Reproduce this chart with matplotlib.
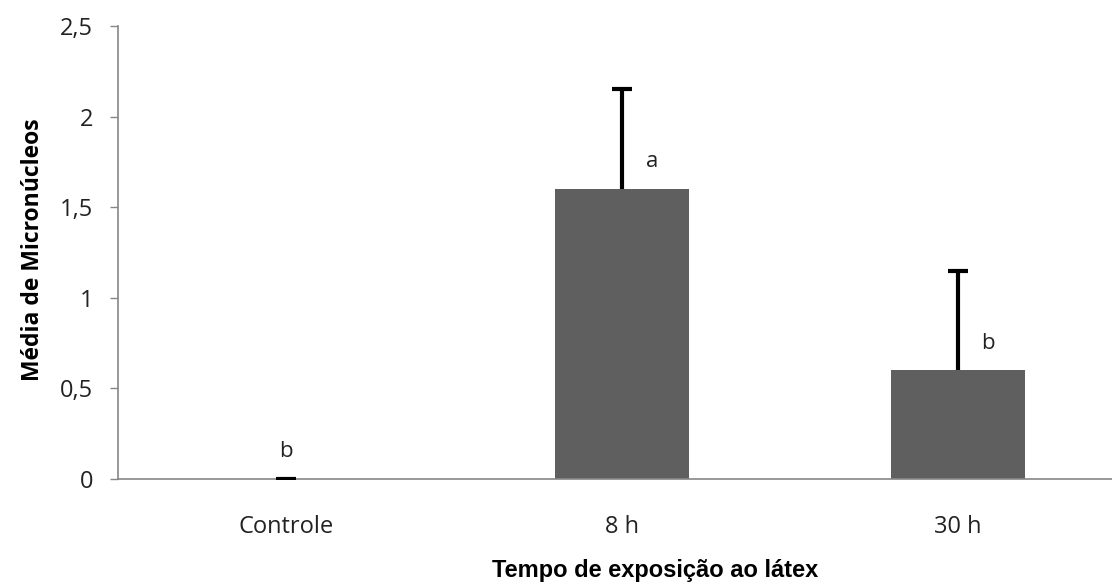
import matplotlib.pyplot as plt
import numpy as np

# dados
grupos = ['Controle', '8 h', '30 h']
medias = [0.0, 1.6, 0.6]
erros = [0.0, 0.55, 0.55]
letras = ['b', 'a', 'b']

fig = plt.figure(figsize=(11.12, 5.84), dpi=100)
ax = fig.add_axes([118 / 1112, 105 / 584, 1008 / 1112, 453 / 584])

x = np.arange(len(grupos))
ax.bar(x, medias, width=0.4, color='#5f5f5f', zorder=2)
eb = ax.errorbar(x, medias, yerr=[np.zeros(len(x)), erros], fmt='none',
                 ecolor='black', elinewidth=3, capsize=7, capthick=3, zorder=3)
eb[1][0].set_visible(False)  # so a barra superior

# letras de significancia
pos_letra = [(0, 0.15), (1.09, 1.75), (2.09, 0.75)]
for (px, py), l in zip(pos_letra, letras):
    ax.text(px, py, l, ha='center', va='center', fontsize=16,
            family='Open Sans', color='#222222')

ax.set_xlim(-0.5, 2.5)
ax.set_ylim(0, 2.5)
ax.set_yticks([0, 0.5, 1, 1.5, 2, 2.5])
ax.set_yticklabels(['0', '0,5', '1', '1,5', '2', '2,5'])
ax.set_xticks(x)
ax.set_xticklabels(grupos)

for lab in ax.get_xticklabels() + ax.get_yticklabels():
    lab.set_family('Open Sans')
    lab.set_fontsize(17)
    lab.set_color('#222222')

ax.tick_params(axis='x', length=0, pad=26)
ax.tick_params(axis='y', length=6, width=1, color='#868686', pad=12)

for s in ['top', 'right']:
    ax.spines[s].set_visible(False)
for s in ['left', 'bottom']:
    ax.spines[s].set_color('#868686')
    ax.spines[s].set_linewidth(1.2)

fig.text(33 / 1112, 1 - 250 / 584, 'Média de Micronúcleos', rotation=90,
         ha='center', va='center', fontsize=16.5, fontweight='bold',
         family='Open Sans')
fig.text(655 / 1112, 1 - 571 / 584, 'Tempo de exposição ao látex',
         ha='center', va='center', fontsize=17, fontweight='bold',
         family='Liberation Sans')

fig.savefig('out.png', dpi=100)
